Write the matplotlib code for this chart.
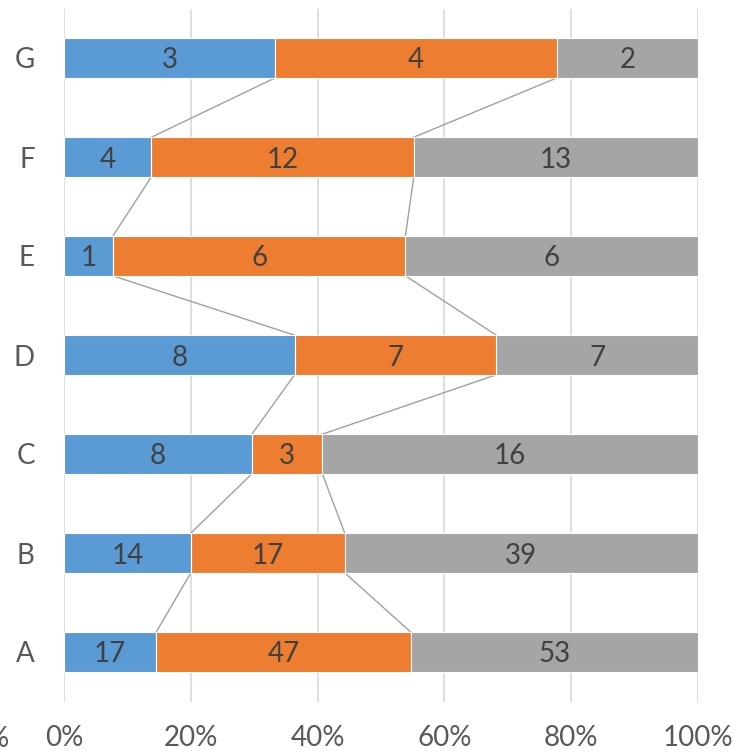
import matplotlib
matplotlib.use("Agg")
import matplotlib.pyplot as plt
import numpy as np

categories = ["A", "B", "C", "D", "E", "F", "G"]
series1 = [17, 14, 8, 8, 1, 4, 3]
series2 = [47, 17, 3, 7, 6, 12, 4]
series3 = [53, 39, 16, 7, 6, 13, 2]
colors = ["#5B9BD5", "#ED7D31", "#A5A5A5"]
xtick_labels = ["0%", "20%", "40%", "60%", "80%", "100%"]

plt.rcParams["font.family"] = ["Lato", "DejaVu Sans"]

fig = plt.figure(figsize=(7.36, 7.53), dpi=100)
ax = fig.add_axes([64 / 736, 1 - 701.5 / 753, (698 - 64) / 736, (701.5 - 8.5) / 753])

data = np.array([series1, series2, series3], dtype=float)
totals = data.sum(axis=0)
frac = data / totals
y = np.arange(len(categories))
bar_h = 0.4

left = np.zeros(len(categories))
for k in range(3):
    ax.barh(y, frac[k], left=left, height=bar_h, color=colors[k],
            edgecolor="white", linewidth=0.8, zorder=3)
    for i in range(len(categories)):
        ax.text(left[i] + frac[k][i] / 2, y[i], f"{int(data[k][i])}",
                ha="center", va="center_baseline", fontsize=20, color="#404040", zorder=4)
    left = left + frac[k]

# series lines joining the segment boundaries of neighbouring bars
cum = np.cumsum(frac, axis=0)
for k in range(2):
    for i in range(len(categories) - 1):
        ax.plot([cum[k][i], cum[k][i + 1]], [y[i] + bar_h / 2, y[i + 1] - bar_h / 2],
                color="#A0A0A0", linewidth=1.0, zorder=2)

ax.set_xlim(0, 1)
ax.set_ylim(-0.5, len(categories) - 0.5)
ax.set_xticks(np.linspace(0, 1, 6))
ax.set_xticklabels(xtick_labels, fontsize=20, color="#595959")
ax.set_yticks(y)
ax.set_yticklabels(categories, fontsize=20, color="#595959")
ax.tick_params(axis="both", length=0)
ax.tick_params(axis="x", pad=17)
ax.tick_params(axis="y", pad=21)
for s in ax.spines.values():
    s.set_visible(False)
ax.grid(axis="x", color="#D9D9D9", linewidth=1.2, zorder=0)
ax.set_axisbelow(True)

fig.text(9 / 736, 1 - 739 / 753, "%", ha="right", va="center", fontsize=20, color="#595959")

fig.savefig("out.png", dpi=100)
